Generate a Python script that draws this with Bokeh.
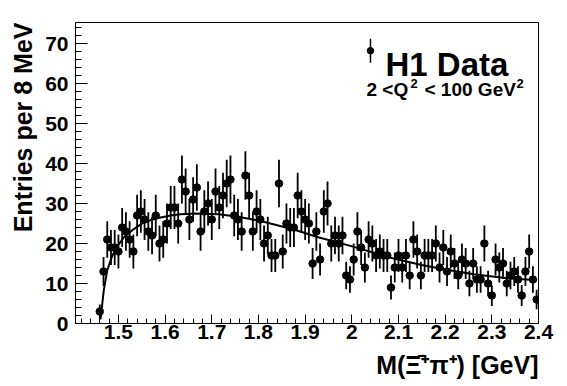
import numpy as np
from bokeh.plotting import figure
from bokeh.models import FixedTicker, CustomJSTickFormatter, Label, ColumnDataSource, Title
from bokeh.embed import file_html
from bokeh.resources import INLINE

# ---- data ----
bin_low = 1.456          # lower edge of first filled bin [GeV]
bin_width = 0.008        # 8 MeV bins
counts = [3, 13, 21, 19, 19, 18, 24, 23, 21, 18,
          27, 28, 26, 23, 22, 27, 20, 21, 25, 29,
          29, 25, 36, 33, 26, 31, 34, 23, 28, 30,
          26, 33, 29, 32, 35, 36, 27, 26, 23, 37,
          32, 23, 28, 26, 20, 22, 17, 17, 35, 18,
          25, 24, 24, 32, 28, 26, 25, 15, 23, 16,
          28, 30, 20, 22, 20, 22, 12, 11, 16, 23,
          19, 14, 21, 20, 17, 18, 17, 17, 9, 14,
          17, 14, 17, 12, 21, 18, 12, 17, 17, 17,
          20, 14, 19, 13, 18, 15, 12, 16, 15, 10,
          15, 11, 11, 20, 10, 7, 16, 14, 15, 10,
          12, 13, 11, 7, 13, 18, 11, 6]

fit_mass = [1.4615, 1.4636, 1.4685, 1.4758, 1.4865, 1.4972, 1.5114, 1.5328,
            1.5542, 1.5829, 1.6114, 1.6328, 1.665, 1.715, 1.7436, 1.765,
            1.7935, 1.815, 1.8756, 1.93, 1.997, 2.0935, 2.15, 2.2, 2.2614,
            2.333, 2.397]
fit_value = [1.0, 3.0, 8.2, 13.2, 16.9, 19.2, 21.5, 23.6,
             25.3, 26.3, 27.0, 27.3, 27.5, 27.3, 26.9, 26.5,
             25.9, 25.3, 23.5, 21.5, 19.4, 16.1, 14.6, 13.5, 12.3,
             11.3, 10.8]

x_ticks = [1.5, 1.6, 1.7, 1.8, 1.9, 2.0, 2.1, 2.2, 2.3, 2.4]
y_ticks = [0, 10, 20, 30, 40, 50, 60, 70]
x_title = "M(\u039e\u0304\u207a\u03c0\u207a) [GeV]"
y_title = "Entries per 8 MeV"

centers = bin_low + bin_width * (np.arange(len(counts)) + 0.5)
cnt = np.array(counts, dtype=float)
err = np.sqrt(cnt)   # Poisson errors of the counts

FONT = "Liberation Sans"
W, H = 567, 386
FL, FR, FT, FB = 75, 538, 22, 323   # frame edges in page pixels

p = figure(width=W, height=H, x_range=(1.408, 2.4), y_range=(0, 75.25),
           output_backend="svg", toolbar_location=None,
           min_border_left=FL, min_border_right=W - FR, min_border_top=FT,
           min_border_bottom=H - FB)
p.grid.visible = False
p.outline_line_color = "black"
p.outline_line_width = 1
p.background_fill_color = "white"
p.border_fill_color = "white"

xminor = [round(1.42 + 0.02 * i, 2) for i in range(50)]
yminor = [2 * i for i in range(38)]
p.xaxis.ticker = FixedTicker(ticks=x_ticks, minor_ticks=xminor)
p.yaxis.ticker = FixedTicker(ticks=y_ticks, minor_ticks=yminor)
p.xaxis.formatter = CustomJSTickFormatter(code="return (Math.round(tick*10)/10).toString();")
p.yaxis.formatter = CustomJSTickFormatter(code="return (Math.round(tick)).toString();")

for ax in (p.xaxis[0], p.yaxis[0]):
    ax.axis_line_color = "black"
    ax.axis_line_width = 1
    ax.major_tick_line_color = "black"
    ax.minor_tick_line_color = "black"
    ax.major_tick_out = 0
    ax.minor_tick_out = 0
    ax.major_label_text_font = FONT
    ax.major_label_text_font_style = "bold"
    ax.major_label_text_font_size = "21px"
    ax.major_label_text_color = "black"
p.xaxis.major_tick_in = 9
p.xaxis.minor_tick_in = 5
p.yaxis.major_tick_in = 12
p.yaxis.minor_tick_in = 6
p.xaxis.major_label_standoff = 1
p.yaxis.major_label_standoff = 7

# axis titles, right / top aligned as in the reference
p.add_layout(Title(text=x_title, align="right", standoff=14, text_font=FONT,
                   text_font_style="bold", text_font_size="25px",
                   text_color="black"), "below")
p.add_layout(Title(text=y_title, align="right", standoff=12, text_font=FONT,
                   text_font_style="bold", text_font_size="25px",
                   text_color="black"), "left")

# data: error bars, points, fit
src = ColumnDataSource(dict(x=centers, y=cnt, lo=cnt - err, hi=cnt + err))
p.segment(x0="x", y0="lo", x1="x", y1="hi", source=src, line_color="black", line_width=1.8)
p.scatter("x", "y", source=src, size=7.5, color="black")
p.line(fit_mass, fit_value, line_color="black", line_width=2)

# legend marker
leg_x, leg_y, leg_e = 2.04, 68.2, 3.0
p.segment(x0=[leg_x], y0=[leg_y - leg_e], x1=[leg_x], y1=[leg_y + leg_e],
          line_color="black", line_width=1.5)
p.scatter([leg_x], [leg_y], size=6.5, color="black")


def text_at(txt, px, py, size, align="left", baseline="alphabetic"):
    """Place a text at page pixel (px, py); screen units are frame relative."""
    p.add_layout(Label(x=px - FL, y=FB - py, x_units="screen", y_units="screen",
                       text=txt, text_font=FONT, text_font_style="bold",
                       text_font_size=size, text_align=align, text_baseline=baseline,
                       text_color="black"))


text_at("H1 Data", 385, 63.5, "33px")
text_at("2 <Q", 366, 89, "19px")
text_at("2", 410, 83, "13px")
text_at("< 100 GeV", 424, 89, "19px")
text_at("2", 516, 83, "13px")

open("out.html", "w").write(file_html(p, INLINE))
